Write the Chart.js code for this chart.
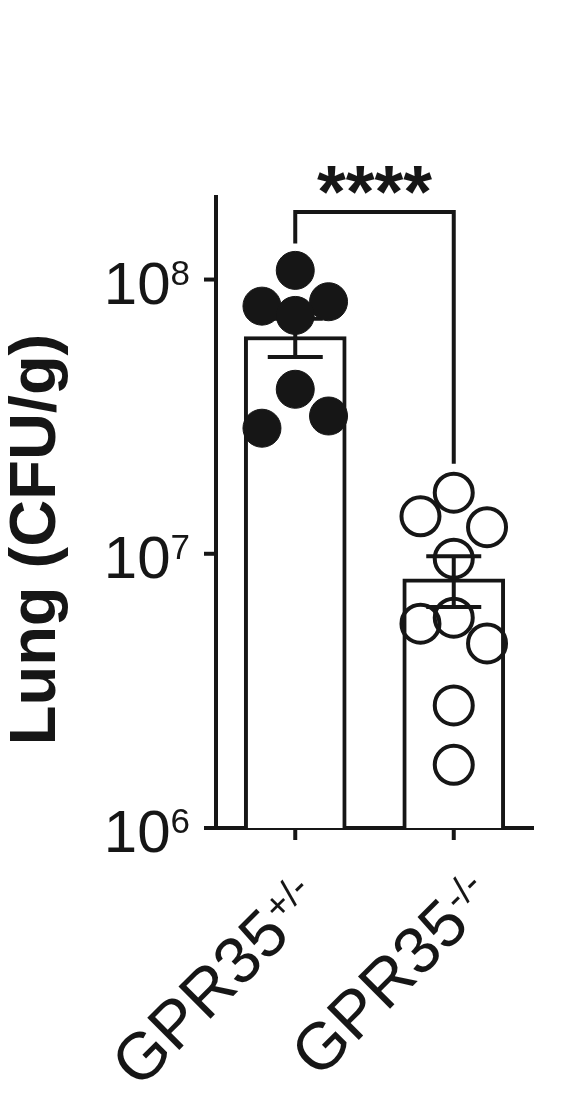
<!DOCTYPE html>
<html>
<head>
<meta charset="utf-8">
<script src="https://cdn.jsdelivr.net/npm/chart.js@4.4.0/dist/chart.umd.min.js"></script>
<style>
  html, body { margin: 0; padding: 0; background: #fff; }
  #wrap { width: 581px; height: 1115px; }
</style>
</head>
<body>
<div id="wrap"><canvas id="lungChart" width="581" height="1115"></canvas></div>
<script>
// group labels (main text + superscript)
const groupMain = ['GPR35', 'GPR35'];
const groupSup = ['+/-', '-/-'];
const groupPos = [1, 2];

// bar heights (mean) and SEM limits, CFU/g
const barMeans = [6.2e7, 8.1e6];
const errLow = [5.22e7, 6.4e6];
const errHigh = [7.2e7, 9.8e6];

// individual mice
const hetValues = [1.08e8, 8.0e7, 8.3e7, 7.4e7, 3.98e7, 2.87e7, 3.18e7];
const hetColumn = [0, -1, 1, 0, 0, -1, 1];
const koValues = [1.67e7, 1.37e7, 1.25e7, 9.6e6, 5.56e6, 5.85e6, 4.71e6, 2.8e6, 1.7e6];
const koColumn = [0, -1, 1, 0, -1, 0, 1, 0, 0];

// y axis
const yTicks = [1e6, 1e7, 1e8];
const yTickBase = '10';
const yTickExp = ['6', '7', '8'];
const yMin = 1e6;
const yMax = 2e8;
const yTitle = 'Lung (CFU/g)';
const sigLabel = '****';

const ink = '#161616';
const fam = '"Liberation Sans", Arial, Helvetica, sans-serif';
const jitter = 0.21;

const barPts = groupPos.map((x, i) => ({ x: x, y: barMeans[i] }));
const hetPts = hetValues.map((v, i) => ({ x: groupPos[0] + hetColumn[i] * jitter, y: v }));
const koPts = koValues.map((v, i) => ({ x: groupPos[1] + koColumn[i] * jitter, y: v }));

const decor = {
  id: 'decor',
  afterDatasetDraw(chart, args) {
    if (args.index !== 2) return;
    const ctx = chart.ctx, xs = chart.scales.x, ys = chart.scales.y;
    ctx.save();
    ctx.strokeStyle = ink;
    ctx.lineWidth = 4;
    groupPos.forEach((g, i) => {
      const x = xs.getPixelForValue(g);
      const top = ys.getPixelForValue(errHigh[i]);
      const bot = ys.getPixelForValue(errLow[i]);
      ctx.beginPath();
      ctx.moveTo(x, top); ctx.lineTo(x, bot);
      ctx.moveTo(x - 27.5, top); ctx.lineTo(x + 27.5, top);
      ctx.moveTo(x - 27.5, bot); ctx.lineTo(x + 27.5, bot);
      ctx.stroke();
    });
    ctx.restore();
  },
  afterDraw(chart) {
    const ctx = chart.ctx, xs = chart.scales.x, ys = chart.scales.y;
    const area = chart.chartArea;
    ctx.save();
    ctx.strokeStyle = ink;
    ctx.fillStyle = ink;
    ctx.lineWidth = 4;

    // x axis stub left of the y axis
    ctx.beginPath();
    ctx.moveTo(area.left - 12, area.bottom);
    ctx.lineTo(area.left, area.bottom);
    ctx.stroke();

    // y ticks and labels
    ctx.textBaseline = 'alphabetic';
    yTicks.forEach((t, i) => {
      const y = ys.getPixelForValue(t);
      ctx.beginPath();
      ctx.moveTo(area.left - 12, y); ctx.lineTo(area.left, y);
      ctx.stroke();
      ctx.font = '35px ' + fam;
      const wSup = ctx.measureText(yTickExp[i]).width;
      ctx.textAlign = 'left';
      const xEnd = area.left - 26;
      ctx.fillText(yTickExp[i], xEnd - wSup, y + 5);
      ctx.font = '60px ' + fam;
      ctx.textAlign = 'right';
      ctx.fillText(yTickBase, xEnd - wSup, y + 24);
    });

    // x ticks and rotated labels
    const labelShift = [[-3, 109], [18, 99]];
    groupPos.forEach((g, i) => {
      const x = xs.getPixelForValue(g);
      ctx.beginPath();
      ctx.moveTo(x, area.bottom); ctx.lineTo(x, area.bottom + 12);
      ctx.stroke();
      ctx.save();
      ctx.translate(x + labelShift[i][0], area.bottom + labelShift[i][1]);
      ctx.rotate(-Math.PI / 4);
      ctx.font = '66px ' + fam;
      ctx.textAlign = 'right';
      ctx.fillText(groupMain[i], 0, 0);
      ctx.font = '38px ' + fam;
      ctx.textAlign = 'left';
      ctx.fillText(groupSup[i], 1, -20);
      ctx.restore();
    });

    // y title
    ctx.save();
    ctx.translate(55, (area.top + area.bottom) / 2 + 27);
    ctx.rotate(-Math.PI / 2);
    ctx.font = 'bold 65px ' + fam;
    ctx.textAlign = 'center';
    ctx.fillText(yTitle, 0, 0);
    ctx.restore();

    // significance bracket
    const x1 = xs.getPixelForValue(groupPos[0]);
    const x2 = xs.getPixelForValue(groupPos[1]);
    const by = area.top + 15;
    const leg1 = ys.getPixelForValue(Math.max(...hetValues)) - 27;
    const leg2 = ys.getPixelForValue(Math.max(...koValues)) - 29;
    ctx.beginPath();
    ctx.moveTo(x1, leg1); ctx.lineTo(x1, by); ctx.lineTo(x2, by); ctx.lineTo(x2, leg2);
    ctx.stroke();
    ctx.font = 'bold 74px ' + fam;
    ctx.textAlign = 'center';
    ctx.fillText(sigLabel, (x1 + x2) / 2, by + 5);
    ctx.restore();
  }
};

new Chart(document.getElementById('lungChart').getContext('2d'), {
  type: 'bar',
  data: {
    datasets: [
      {
        type: 'scatter',
        data: hetPts,
        order: 1,
        pointRadius: 19,
        pointHoverRadius: 19,
        backgroundColor: ink,
        borderColor: ink,
        borderWidth: 1
      },
      {
        type: 'scatter',
        data: koPts,
        order: 2,
        pointRadius: 19,
        pointHoverRadius: 19,
        backgroundColor: 'rgba(0,0,0,0)',
        borderColor: ink,
        borderWidth: 4
      },
      {
        type: 'bar',
        data: barPts,
        order: 3,
        backgroundColor: '#fff',
        borderColor: ink,
        borderWidth: 4,
        barThickness: 102
      }
    ]
  },
  options: {
    responsive: false,
    animation: false,
    events: [],
    layout: { padding: { left: 216, right: 48, top: 197, bottom: 287 } },
    plugins: { legend: { display: false }, tooltip: { enabled: false } },
    scales: {
      x: {
        type: 'linear',
        min: 0.5,
        max: 2.5,
        offset: false,
        grid: { display: false },
        ticks: { display: false },
        border: { color: ink, width: 4 },
        afterFit(s) { s.height = 0; }
      },
      y: {
        type: 'logarithmic',
        min: yMin,
        max: yMax,
        grid: { display: false },
        ticks: { display: false },
        border: { color: ink, width: 4 },
        afterFit(s) { s.width = 0; }
      }
    }
  },
  plugins: [decor]
});
</script>
</body>
</html>
